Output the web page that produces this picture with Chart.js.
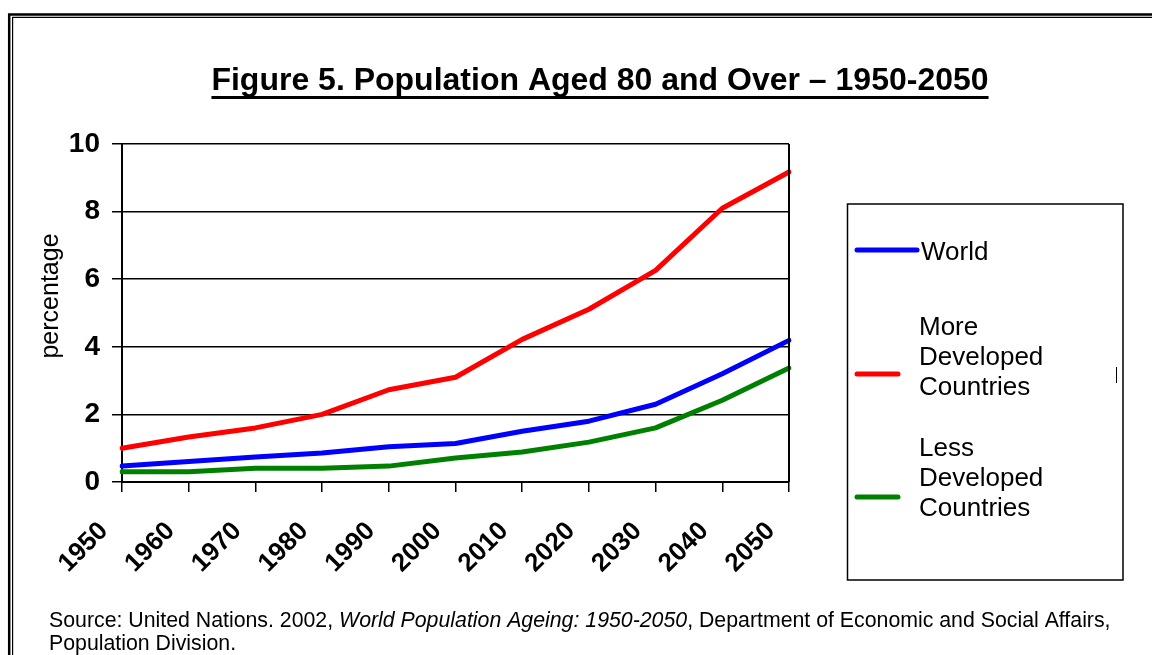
<!DOCTYPE html>
<html>
<head>
<meta charset="utf-8">
<script src="https://cdn.jsdelivr.net/npm/chart.js@4.4.0/dist/chart.umd.min.js"></script>
<style>
  html, body { margin: 0; padding: 0; background: #fff; }
  #wrap { width: 1152px; height: 655px; overflow: hidden; }
</style>
</head>
<body>
<div id="wrap"><canvas id="myChart" width="1152" height="655"></canvas></div>
<script>
// ============== data ==============
const years = ["1950", "1960", "1970", "1980", "1990", "2000", "2010", "2020", "2030", "2040", "2050"];
const world = [0.47, 0.61, 0.74, 0.86, 1.04, 1.14, 1.5, 1.8, 2.3, 3.2, 4.19];
const moreDeveloped = [1.0, 1.33, 1.6, 2.0, 2.73, 3.1, 4.22, 5.11, 6.26, 8.1, 9.17];
const lessDeveloped = [0.3, 0.3, 0.41, 0.41, 0.47, 0.71, 0.89, 1.18, 1.6, 2.42, 3.37];
const seriesNames = ["World", "More Developed Countries", "Less Developed Countries"];
const legendLines = [["World"], ["More", "Developed", "Countries"], ["Less", "Developed", "Countries"]];

const titleText = "Figure 5. Population Aged 80 and Over \u2013 1950-2050";
const yTitle = "percentage";
const sourceLine1 = [
  ["Source: United Nations. 2002, ", false],
  ["World Population Ageing: 1950-2050", true],
  [", Department of Economic and Social Affairs,", false],
];
const sourceLine2 = "Population Division.";

const FONT = "'Liberation Sans', Arial, Helvetica, sans-serif";
const COLORS = {
  blue: "#0000ff",
  red: "#ff0000",
  green: "#008000",
};

// ============== extra drawing (frame, title, legend, source) ==============
const decorPlugin = {
  id: "decor",
  beforeDraw(chart) {
    const ctx = chart.ctx;
    ctx.save();
    ctx.fillStyle = "#fff";
    ctx.fillRect(0, 0, chart.width, chart.height);
    // double frame, only left + top visible
    ctx.strokeStyle = "#000";
    ctx.lineWidth = 2.5;
    ctx.beginPath();
    ctx.moveTo(9.2, 700);
    ctx.lineTo(9.2, 14.5);
    ctx.lineTo(1200, 14.5);
    ctx.stroke();
    ctx.lineWidth = 1.2;
    ctx.beginPath();
    ctx.moveTo(12.6, 700);
    ctx.lineTo(12.6, 17.3);
    ctx.lineTo(1200, 17.3);
    ctx.stroke();
    ctx.restore();
  },
  afterDraw(chart) {
    const ctx = chart.ctx;
    const area = chart.chartArea;
    ctx.save();

    // right edge of the plot
    ctx.strokeStyle = "#000";
    ctx.lineWidth = 2;
    ctx.beginPath();
    ctx.moveTo(area.right, area.top);
    ctx.lineTo(area.right, area.bottom);
    ctx.stroke();

    // title, underlined
    ctx.fillStyle = "#000";
    ctx.font = `bold 32px ${FONT}`;
    ctx.textAlign = "center";
    ctx.textBaseline = "alphabetic";
    ctx.fillText(titleText, 600, 90);
    let tw = ctx.measureText(titleText).width;
    ctx.fillRect(600 - tw / 2, 96, tw, 3);

    // y title
    ctx.save();
    ctx.translate(51, 296);
    ctx.rotate(-Math.PI / 2);
    ctx.font = `25px ${FONT}`;
    ctx.textBaseline = "middle";
    ctx.fillText(yTitle, 0, 0);
    ctx.restore();

    // legend box
    ctx.lineWidth = 1.5;
    ctx.strokeRect(847.5, 204, 275.5, 376);
    ctx.lineWidth = 1;
    ctx.beginPath();
    ctx.moveTo(1116.5, 367);
    ctx.lineTo(1116.5, 383);
    ctx.stroke();

    const legendItems = [
      { sample: [857, 917, 250], textX: 921, baselines: [260] },
      { sample: [857, 898, 374], textX: 919, baselines: [335, 365, 395] },
      { sample: [857, 898, 497], textX: 919, baselines: [456, 486, 516] },
    ];
    ctx.textAlign = "left";
    ctx.textBaseline = "alphabetic";
    ctx.font = `26px ${FONT}`;
    legendItems.forEach((item, i) => {
      const ds = chart.data.datasets[i];
      ctx.strokeStyle = ds.borderColor;
      ctx.lineWidth = 5;
      ctx.lineCap = "round";
      ctx.beginPath();
      ctx.moveTo(item.sample[0], item.sample[2]);
      ctx.lineTo(item.sample[1], item.sample[2]);
      ctx.stroke();
      ctx.fillStyle = "#000";
      legendLines[i].forEach((line, j) => {
        ctx.fillText(line, item.textX, item.baselines[j]);
      });
    });

    // source note
    ctx.fillStyle = "#000";
    let x = 49;
    sourceLine1.forEach(([txt, italic]) => {
      ctx.font = `${italic ? "italic " : ""}21.3px ${FONT}`;
      ctx.fillText(txt, x, 627);
      x += ctx.measureText(txt).width;
    });
    ctx.font = `21.3px ${FONT}`;
    ctx.fillText(sourceLine2, 49, 650);

    ctx.restore();
  },
};

// ============== chart ==============
let myChart = document.getElementById("myChart");
let datasetValues = [world, moreDeveloped, lessDeveloped];
let datasetColors = [COLORS.blue, COLORS.red, COLORS.green];

let chart_data = {
  labels: years,
  datasets: seriesNames.map((name, i) => ({
    label: name,
    data: datasetValues[i],
    borderColor: datasetColors[i],
    backgroundColor: datasetColors[i],
    borderWidth: 5,
    pointRadius: 0,
    tension: 0,
    borderCapStyle: "round",
    borderJoinStyle: "round",
  })),
};

const config = {
  type: "line",
  data: chart_data,
  options: {
    responsive: false,
    animation: false,
    devicePixelRatio: 1,
    layout: {
      padding: { left: 0, top: 144, right: 363, bottom: 0 },
    },
    plugins: {
      legend: { display: false },
      title: { display: false },
      tooltip: { enabled: false },
    },
    scales: {
      x: {
        type: "category",
        offset: false,
        afterFit: (s) => { s.height = 655 - 482; },
        grid: {
          drawOnChartArea: false,
          drawTicks: true,
          tickLength: 10,
          color: "#000",
          lineWidth: 1.5,
        },
        border: { color: "#000", width: 2 },
        ticks: {
          autoSkip: false,
          minRotation: 45,
          maxRotation: 45,
          padding: 24,
          labelOffset: -18,
          color: "#000",
          font: { family: FONT, size: 26, weight: "bold" },
        },
      },
      y: {
        min: 0,
        max: 10,
        afterFit: (s) => { s.width = 122; },
        grid: {
          color: "#000",
          lineWidth: 1.5,
          tickLength: 10,
        },
        border: { color: "#000", width: 2 },
        ticks: {
          stepSize: 2,
          padding: 12,
          color: "#000",
          font: { family: FONT, size: 28, weight: "bold" },
        },
      },
    },
  },
  plugins: [decorPlugin],
};

let new_chart = new Chart(myChart.getContext("2d"), config);
</script>
</body>
</html>
